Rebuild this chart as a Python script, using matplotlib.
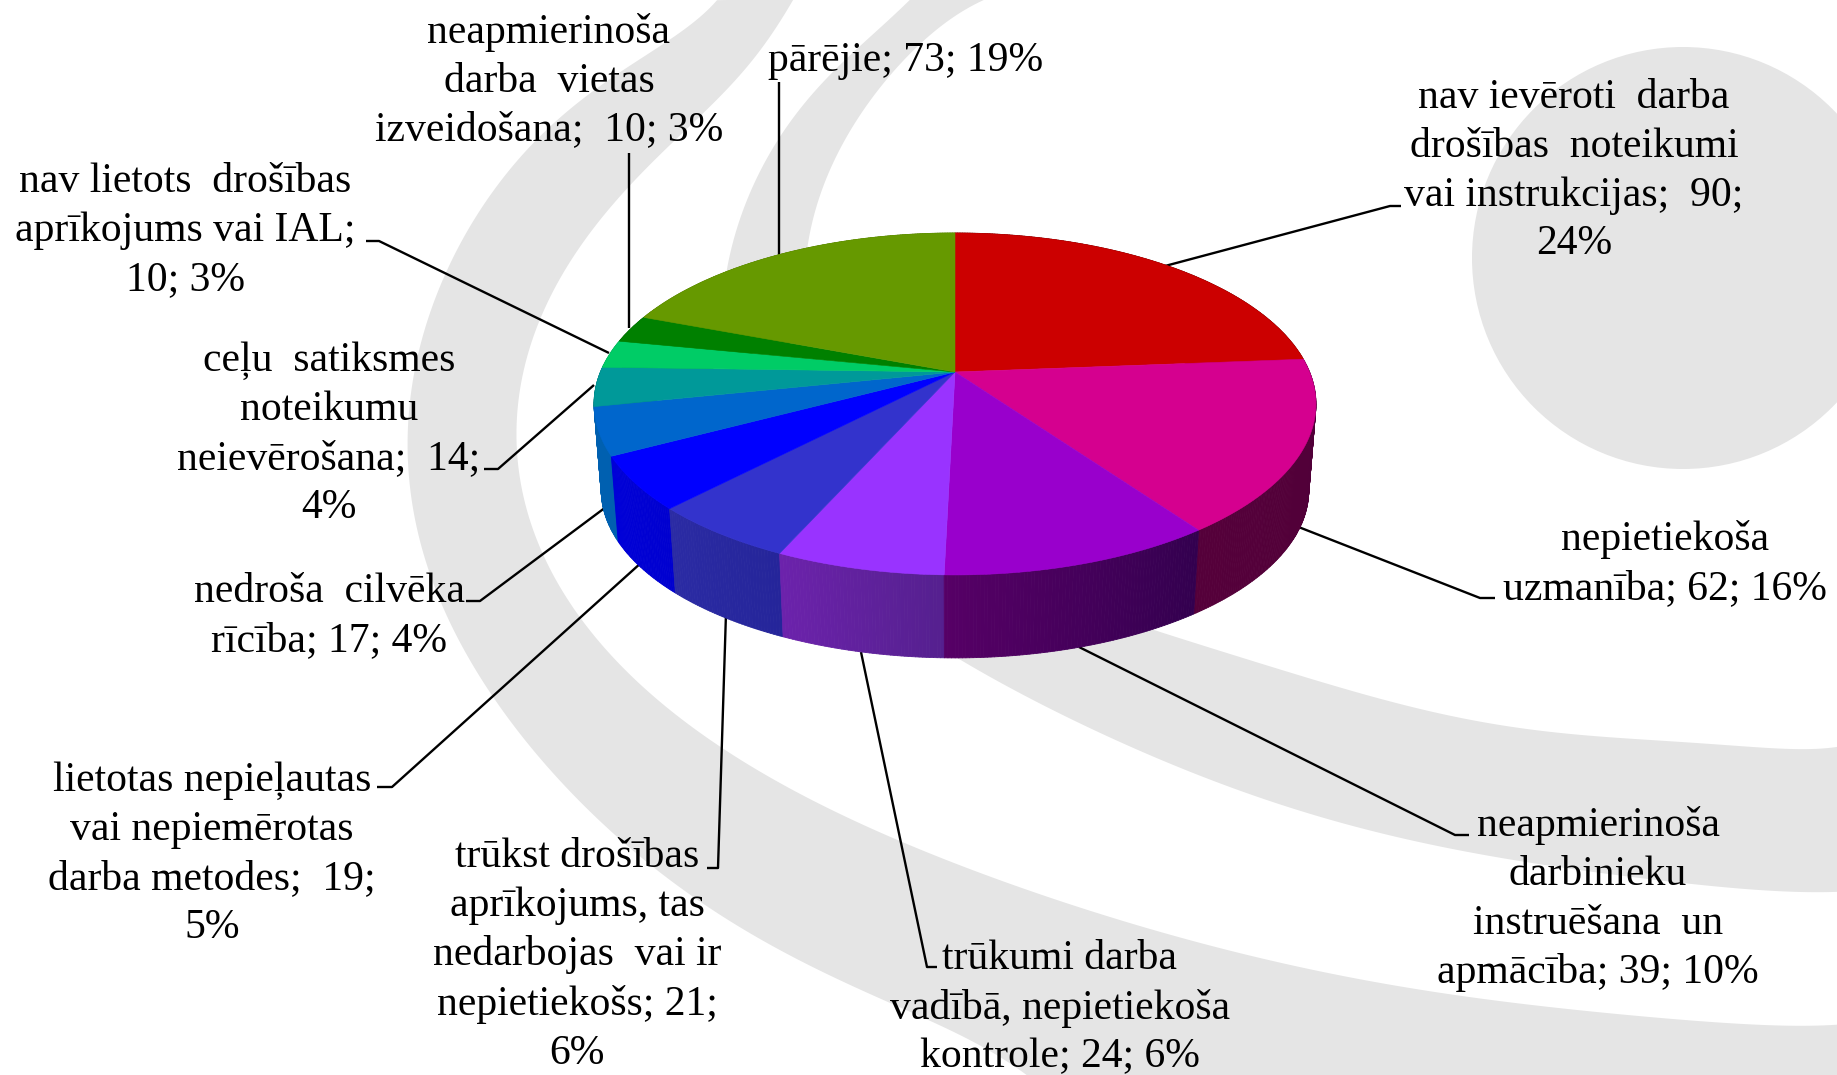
import numpy as np
import matplotlib
matplotlib.use('Agg')
from matplotlib import pyplot as plt
from matplotlib.collections import PolyCollection
from matplotlib.colors import to_rgb
from matplotlib.patches import Circle, Polygon

# slices, clockwise from the top
values = [90, 62, 39, 24, 21, 19, 17, 14, 10, 10, 73]
labels = [
    'nav ievēroti  darba\ndrošības  noteikumi\nvai instrukcijas;  90;\n24%',
    'nepietiekoša\nuzmanība; 62; 16%',
    'neapmierinoša\ndarbinieku\ninstruēšana  un\napmācība; 39; 10%',
    'trūkumi darba\nvadībā, nepietiekoša\nkontrole; 24; 6%',
    'trūkst drošības\naprīkojums, tas\nnedarbojas  vai ir\nnepietiekošs; 21;\n6%',
    'lietotas nepieļautas\nvai nepiemērotas\ndarba metodes;  19;\n5%',
    'nedroša  cilvēka\nrīcība; 17; 4%',
    'ceļu  satiksmes\nnoteikumu\nneievērošana;  14;\n4%',
    'nav lietots  drošības\naprīkojums vai IAL;\n10; 3%',
    'neapmierinoša\ndarba  vietas\nizveidošana;  10; 3%',
    'pārējie; 73; 19%',
]
top_colors = ['#CC0000', '#D5008F', '#9900CC', '#9933FF', '#3333CC', '#0000FF',
              '#0066CC', '#009999', '#00CC66', '#008000', '#669900']
# wall colour at the start and the end of each slice
wall_start = ['#660000', '#4F0038', '#33004F', '#55208F', '#25259A', '#0000D0',
              '#0060B0', '#007A7A', '#00A050', '#006000', '#507800']
wall_end = ['#660000', '#55003A', '#560066', '#6C22AC', '#2B2BA4', '#0000D8',
            '#0060B0', '#007A7A', '#00A050', '#006000', '#507800']

# label centres in pixels
label_x = [1574, 1665, 1598, 1060, 577, 212, 329, 329, 185, 549, 906]
label_y = [171, 564, 899, 1008, 955, 854, 616, 434, 231, 81, 61]
# leader lines in pixels
leaders = [
    [(1165, 266), (1390, 206), (1401, 206)],
    [(1296, 526), (1480, 598), (1495, 598)],
    [(1079, 647), (1455, 835), (1469, 835)],
    [(861, 652), (927, 967), (937, 967)],
    [(726, 613), (718, 868), (707, 868)],
    [(642, 562), (392, 787), (377, 787)],
    [(606, 507), (480, 601), (466, 601)],
    [(594, 385), (498, 469), (484, 469)],
    [(609, 353), (379, 241), (366, 241)],
    [(629, 328), (629, 153)],
    [(779, 255), (779, 82)],
]

# grey decoration behind the pie
band1_outer = [(717, 0), (680, 33), (580, 100), (513, 167), (448, 267), (423, 333), (412, 417),
               (410, 520), (440, 603), (480, 663), (513, 727), (580, 813), (663, 863), (747, 937),
               (900, 1005), (967, 1040), (1027, 1075)]
band1_inner = [(793, 0), (747, 67), (680, 133), (630, 190), (567, 267), (540, 317), (523, 383),
               (517, 433), (527, 520), (547, 570), (587, 630), (647, 687), (713, 740), (797, 790),
               (900, 840), (1000, 883), (1133, 927), (1267, 957), (1362, 977), (1462, 998),
               (1595, 1013), (1729, 1022), (1837, 1025)]
band2_outer = [(910, 0), (830, 73), (780, 140), (747, 200), (727, 260), (735, 400), (800, 540),
               (890, 620), (980, 658), (1033, 697), (1100, 740), (1200, 780), (1300, 810),
               (1362, 823), (1462, 853), (1595, 873), (1729, 887), (1837, 892)]
band2_inner = [(984, 0), (900, 63), (863, 113), (827, 177), (808, 237), (815, 360), (880, 480),
               (1000, 570), (1163, 630), (1233, 657), (1300, 677), (1362, 693), (1462, 717),
               (1595, 737), (1729, 745), (1837, 747)]

# pie geometry, pixels
cx, cy = 955, 372
rx, ry = 354.6, 165
k = 0.187
bottom_dy = 87
bottom_scale = 0.98


def rim(t, dy=0, s=1.0):
    w = 1 + k * np.sin(t)
    return np.column_stack((cx + s * rx * np.cos(t) / w,
                            cy + dy - s * ry * np.sin(t) / w))


def smooth(pts, deg=9, n=300):
    # least squares curve through the edge points
    p = np.array(pts, dtype=float)
    s = np.concatenate(([0], np.cumsum(np.hypot(*np.diff(p, axis=0).T))))
    s = s / s[-1]
    u = np.linspace(0, 1, n)
    return np.column_stack((np.polyval(np.polyfit(s, p[:, 0], deg), u),
                            np.polyval(np.polyfit(s, p[:, 1], deg), u)))


plt.rcParams['font.family'] = ['Liberation Serif', 'DejaVu Serif']
fig = plt.figure(figsize=(18.37, 10.75), dpi=100)
ax = fig.add_axes([0, 0, 1, 1])
ax.set_xlim(0, 1837)
ax.set_ylim(1075, 0)
ax.axis('off')

grey = '#E5E5E5'
ax.add_patch(Circle((1683, 258), 211, color=grey, lw=0, zorder=1))
for outer, inner, extra in [(band1_outer, band1_inner, [(1837, 1075)]),
                            (band2_outer, band2_inner, [])]:
    poly = np.vstack((smooth(outer), np.array(extra).reshape(-1, 2), smooth(inner)[::-1]))
    ax.add_patch(Polygon(poly, closed=True, color=grey, lw=0, zorder=1))

for pts in leaders:
    xs, ys = zip(*pts)
    ax.plot(xs, ys, color='black', lw=1.7, zorder=2, solid_capstyle='butt')

# angle of each slice boundary, clockwise from the top
edges = np.pi / 2 - 2 * np.pi * np.cumsum([0] + values) / sum(values)

quads, quad_colors = [], []
for i in range(len(values)):
    ts = np.linspace(edges[i], edges[i + 1], max(3, int(values[i] * 2)))
    c0, c1 = np.array(to_rgb(wall_start[i])), np.array(to_rgb(wall_end[i]))
    top = rim(ts)
    bot = rim(ts, bottom_dy, bottom_scale)
    for j in range(len(ts) - 1):
        quads.append([top[j], top[j + 1], bot[j + 1], bot[j]])
        quad_colors.append(c0 + (c1 - c0) * j / (len(ts) - 2))
order = np.argsort([q[0][1] for q in quads])
walls = PolyCollection([quads[j] for j in order], facecolors=[quad_colors[j] for j in order],
                       edgecolors=[quad_colors[j] for j in order], linewidths=0.6, zorder=3)
ax.add_collection(walls)

for i in range(len(values)):
    ts = np.linspace(edges[i], edges[i + 1], max(8, values[i] * 3))
    poly = np.vstack(([[cx, cy]], rim(ts)))
    ax.add_patch(Polygon(poly, closed=True, facecolor=top_colors[i], edgecolor=top_colors[i],
                         lw=0.4, zorder=4))

for x, y, s in zip(label_x, label_y, labels):
    ax.text(x, y, s, ha='center', va='center', multialignment='center', fontsize=30,
            linespacing=1.35, color='black', zorder=5)

plt.savefig('out.png', dpi=100)
